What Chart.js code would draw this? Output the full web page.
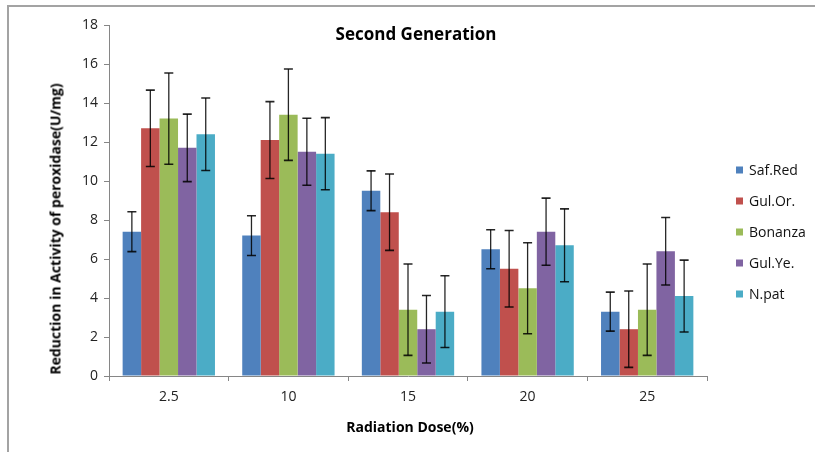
<!DOCTYPE html>
<html>
<head>
<meta charset="utf-8">
<script src="https://cdn.jsdelivr.net/npm/chart.js@4/dist/chart.umd.min.js"></script>
<style>
  html, body { margin: 0; padding: 0; background: #fff; }
  #wrap { position: relative; width: 815px; height: 452px; overflow: hidden; font-family: "Open Sans", sans-serif; }
  #frame { position: absolute; left: 7px; top: 5px; width: 900px; height: 600px; border-left: 2px solid #a3a3a3; border-top: 2px solid #a3a3a3; }
  canvas { position: absolute; left: 0; top: 0; }
  .t { position: absolute; color: #000; white-space: nowrap; }
  #title { left: 416px; top: 33px; transform: translate(-50%, -50%); font-weight: bold; font-size: 17px; }
  #ytitle { left: 55px; top: 229px; transform: translate(-50%, -50%) rotate(-90deg); font-weight: bold; font-size: 14px; }
  #xtitle { left: 410px; top: 426px; transform: translate(-50%, -50%); font-weight: bold; font-size: 14px; }
  .lg { position: absolute; left: 736px; font-size: 14px; color: #111; transform: translateY(-50%); white-space: nowrap; }
  .lg span { display: inline-block; width: 7px; height: 7px; margin-right: 6px; vertical-align: middle; position: relative; top: -1px; }
</style>
</head>
<body>
<div id="wrap">
  <div id="frame"></div>
  <canvas id="c" width="815" height="452"></canvas>
  <div class="t" id="title">Second Generation</div>
  <div class="t" id="ytitle">Reduction in Activity of peroxidase(U/mg)</div>
  <div class="t" id="xtitle">Radiation Dose(%)</div>
  <div id="legend"></div>
</div>
<script>
const categories = ["2.5", "10", "15", "20", "25"];
const seriesNames = ["Saf.Red", "Gul.Or.", "Bonanza", "Gul.Ye.", "N.pat"];
const safRed  = [7.4, 7.2, 9.5, 6.5, 3.3];
const gulOr   = [12.7, 12.1, 8.4, 5.5, 2.4];
const bonanza = [13.2, 13.4, 3.4, 4.5, 3.4];
const gulYe   = [11.7, 11.5, 2.4, 7.4, 6.4];
const nPat    = [12.4, 11.4, 3.3, 6.7, 4.1];
const errSafRed  = [1.02, 1.02, 1.02, 1.0, 1.0];
const errGulOr   = [1.96, 1.97, 1.96, 1.96, 1.96];
const errBonanza = [2.34, 2.34, 2.34, 2.33, 2.34];
const errGulYe   = [1.73, 1.72, 1.73, 1.72, 1.73];
const errNPat    = [1.86, 1.85, 1.84, 1.87, 1.84];
const yTicks = [0, 2, 4, 6, 8, 10, 12, 14, 16, 18];

const colors = ["#4F81BD", "#C0504D", "#9BBB59", "#8064A2", "#4BACC6"];
const values = [safRed, gulOr, bonanza, gulYe, nPat];
const errors = [errSafRed, errGulOr, errBonanza, errGulYe, errNPat];

const legendEl = document.getElementById('legend');
const legendY = [169, 200, 231, 262, 293];
seriesNames.forEach((n, i) => {
  const d = document.createElement('div');
  d.className = 'lg';
  d.style.top = legendY[i] + 'px';
  d.innerHTML = '<span style="background:' + colors[i] + '"></span>' + n;
  legendEl.appendChild(d);
});

const errorBars = {
  id: 'errorBars',
  afterDatasetsDraw(chart) {
    const ctx = chart.ctx;
    const y = chart.scales.y;
    ctx.save();
    ctx.strokeStyle = 'rgba(0,0,0,0.85)';
    chart.data.datasets.forEach((ds, di) => {
      const meta = chart.getDatasetMeta(di);
      meta.data.forEach((bar, i) => {
        const v = ds.data[i], e = errors[di][i];
        const x = bar.x;
        const yt = y.getPixelForValue(v + e);
        const yb = y.getPixelForValue(v - e);
        ctx.lineWidth = 1.3;
        ctx.beginPath();
        ctx.moveTo(x, yt); ctx.lineTo(x, yb);
        ctx.stroke();
        ctx.lineWidth = 1.6;
        ctx.beginPath();
        ctx.moveTo(x - 4.5, yt); ctx.lineTo(x + 4.5, yt);
        ctx.moveTo(x - 4.5, yb); ctx.lineTo(x + 4.5, yb);
        ctx.stroke();
      });
    });
    ctx.restore();
  }
};

new Chart(document.getElementById('c'), {
  type: 'bar',
  data: {
    labels: categories,
    datasets: seriesNames.map((n, i) => ({
      label: n,
      data: values[i],
      backgroundColor: colors[i],
      borderWidth: 0,
      categoryPercentage: 0.772,
      barPercentage: 1.0
    }))
  },
  options: {
    responsive: false,
    animation: false,
    layout: { padding: { left: 79, top: 25, right: 108, bottom: 46 } },
    plugins: { legend: { display: false }, title: { display: false }, tooltip: { enabled: false } },
    scales: {
      x: {
        afterFit(s) { s.height = 30; },
        grid: { offset: true, drawOnChartArea: false, drawTicks: true, tickLength: 5, color: '#868686' },
        border: { color: '#868686', width: 1 },
        ticks: { color: '#222', font: { family: 'Open Sans', size: 14 }, padding: 8 }
      },
      y: {
        min: 0, max: 18,
        afterFit(s) { s.width = 30; },
        afterBuildTicks(s) { s.ticks = yTicks.map(v => ({ value: v })); },
        grid: { drawOnChartArea: false, drawTicks: true, tickLength: 5, color: '#868686' },
        border: { color: '#868686', width: 1 },
        ticks: { color: '#222', font: { family: 'Open Sans', size: 14 }, padding: 6 }
      }
    }
  },
  plugins: [errorBars]
});
</script>
</body>
</html>
